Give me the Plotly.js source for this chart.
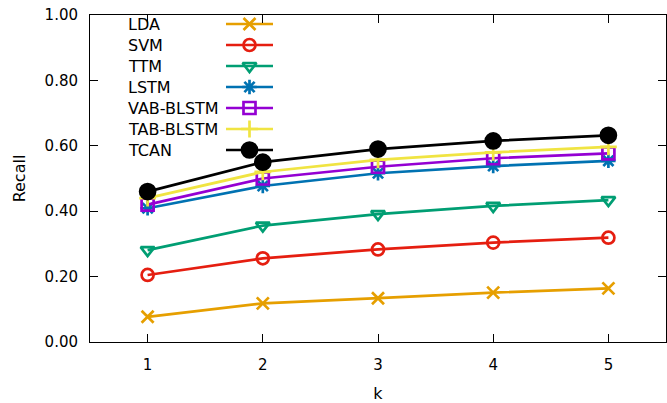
<!DOCTYPE html>
<html><head><meta charset="utf-8">
<script src="https://cdn.plot.ly/plotly-3.0.1.min.js"></script>
<style>html,body{margin:0;padding:0;background:#fff}#c{width:667px;height:403px}</style>
</head><body><div id="c"></div>
<script>
const k = [1, 2, 3, 4, 5];
const names = ["LDA", "SVM", "TTM", "LSTM", "VAB-BLSTM", "TAB-BLSTM", "TCAN"];
const LDA  = [0.077, 0.118, 0.134, 0.151, 0.164];
const SVM  = [0.205, 0.256, 0.283, 0.304, 0.319];
const TTM  = [0.281, 0.356, 0.391, 0.416, 0.434];
const LSTM = [0.409, 0.477, 0.516, 0.538, 0.554];
const VAB  = [0.420, 0.500, 0.536, 0.562, 0.577];
const TAB  = [0.440, 0.520, 0.557, 0.580, 0.597];
const TCAN = [0.460, 0.550, 0.590, 0.615, 0.632];
const yTicks = [0, 0.2, 0.4, 0.6, 0.8, 1.0];
const yTickText = ["0.00", "0.20", "0.40", "0.60", "0.80", "1.00"];

const series = [LDA, SVM, TTM, LSTM, VAB, TAB, TCAN];
const colors = ["#e69f00", "#e51e10", "#009e73", "#0072b2", "#9400d3", "#f0e442", "#000000"];
const symbols = ["x-thin-open", "circle-open", "triangle-down-open", "asterisk-open", "square-open", "cross-thin-open", "circle"];
const sizes = [12, 12, 12, 12, 12, 12, 15];

const font = "DejaVu Sans, sans-serif";
const LW = 2.7;
const traces = [];
series.forEach((s, i) => {
  traces.push({
    x: k, y: s, type: "scatter", mode: "lines+markers", name: names[i],
    line: {color: colors[i], width: LW},
    marker: {symbol: symbols[i], size: sizes[i], color: colors[i], line: {color: colors[i], width: LW}},
    showlegend: false, hoverinfo: "skip"
  });
});
// legend samples on an overlay pixel axis
const annotations = [];
series.forEach((s, i) => {
  const yy = 24 + 21 * i;
  traces.push({
    x: [226, 273], y: [yy, yy], xaxis: "x2", yaxis: "y2",
    type: "scatter", mode: "lines", showlegend: false, hoverinfo: "skip",
    line: {color: colors[i], width: LW}
  });
  traces.push({
    x: [249.5], y: [yy], xaxis: "x2", yaxis: "y2",
    type: "scatter", mode: "markers", showlegend: false, hoverinfo: "skip",
    marker: {symbol: symbols[i], size: sizes[i], color: colors[i], line: {color: colors[i], width: LW}}
  });
  annotations.push({
    xref: "x2", yref: "y2", x: 126, y: yy, text: names[i], showarrow: false,
    xanchor: "left", yanchor: "middle", font: {family: font, size: 16, color: "#000"}
  });
});

const layout = {
  width: 667, height: 403,
  margin: {l: 90, r: 1, t: 15, b: 61},
  paper_bgcolor: "#fff", plot_bgcolor: "#fff",
  font: {family: font, size: 15, color: "#000"},
  showlegend: false,
  xaxis: {
    range: [0.5, 5.5], tickvals: k, ticktext: k.map(String),
    ticks: "inside", ticklen: 8, tickcolor: "#000", tickwidth: 1,
    showline: true, linecolor: "#000", linewidth: 1, mirror: "ticks",
    showgrid: false, zeroline: false, ticklabelstandoff: 9,
    title: {text: "k", font: {family: font, size: 16}, standoff: 16}
  },
  yaxis: {
    range: [0, 1], tickvals: yTicks, ticktext: yTickText,
    ticks: "inside", ticklen: 8, tickcolor: "#000", tickwidth: 1,
    showline: true, linecolor: "#000", linewidth: 1, mirror: "ticks",
    showgrid: false, zeroline: false, ticklabelstandoff: 8,
    title: {text: "Recall", font: {family: font, size: 16}, standoff: 14}
  },
  xaxis2: {overlaying: "x", range: [90, 666], visible: false, fixedrange: true},
  yaxis2: {overlaying: "y", range: [342, 15], visible: false, fixedrange: true},
  annotations: annotations
};
Plotly.newPlot("c", traces, layout, {staticPlot: true, displayModeBar: false});
</script></body></html>
